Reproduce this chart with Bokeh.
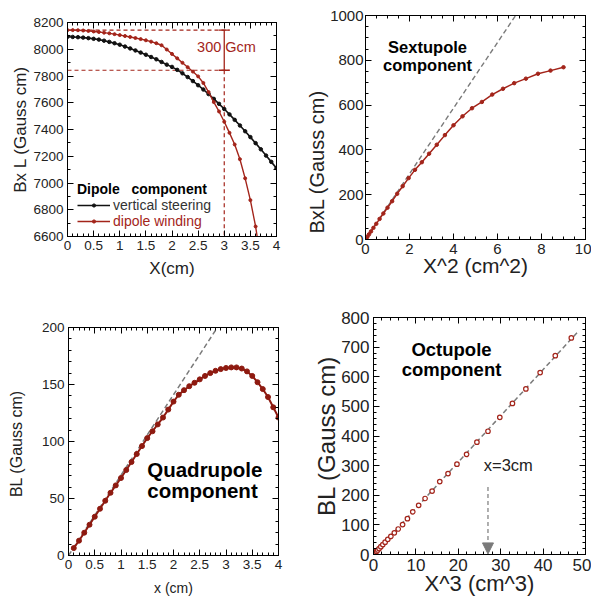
from bokeh.plotting import figure
from bokeh.models import (Range1d, LinearAxis, SingleIntervalTicker, CustomJSTickFormatter, Title,
                          Label, Legend, LegendItem, Arrow, NormalHead, CustomLabelingPolicy)
from bokeh.layouts import row, column
from bokeh.embed import file_html
from bokeh.resources import INLINE

# ---------------- data ----------------
# Dipole component (BxL vs X)
dipole_x = [0.0, 0.1, 0.2, 0.3, 0.4, 0.5, 0.6, 0.7, 0.8, 0.9, 1.0, 1.1, 1.2, 1.3, 1.4, 1.5, 1.6, 1.7, 1.8, 1.9,
            2.0, 2.1, 2.2, 2.3, 2.4, 2.5, 2.6, 2.7, 2.8, 2.9, 3.0, 3.1, 3.2, 3.3, 3.4, 3.5, 3.6, 3.7, 3.8, 3.9, 4.0]
steering_bl = [8093, 8092, 8090, 8087, 8083, 8078, 8072, 8064, 8055, 8045, 8034, 8020, 8006, 7991, 7975, 7959,
               7942, 7925, 7905, 7885, 7868, 7846, 7820, 7792, 7762, 7731, 7699, 7665, 7629, 7592, 7553, 7513,
               7472, 7430, 7387, 7343, 7298, 7252, 7205, 7158, 7111]
winding_x = [0.0, 0.1, 0.2, 0.3, 0.4, 0.5, 0.6, 0.7, 0.8, 0.9, 1.0, 1.1, 1.2, 1.3, 1.4, 1.5, 1.6, 1.7, 1.8, 1.9,
             2.0, 2.1, 2.2, 2.3, 2.4, 2.5, 2.6, 2.7, 2.8, 2.9, 3.0, 3.1, 3.2, 3.3, 3.4, 3.5, 3.6, 3.7]
winding_bl = [8143, 8143, 8142, 8140, 8137, 8133, 8129, 8124, 8119, 8113, 8106, 8099, 8092, 8084, 8076, 8067,
              8057, 8045, 8030, 7998, 7965, 7932, 7899, 7866, 7833, 7797, 7748, 7680, 7605, 7535, 7458, 7375,
              7288, 7178, 7035, 6872, 6675, 6420]
ref_x = 3.0          # x = 3 cm reference
ref_top = 8143       # dipole winding at x = 0
ref_low = 7843       # 300 Gcm below
ref_line_end = 3.1

# Sextupole component (BxL vs X^2)
sext_x2 = [0.0, 0.01, 0.04, 0.09, 0.16, 0.25, 0.36, 0.49, 0.64, 0.81, 1.0, 1.21, 1.44, 1.69, 1.96, 2.25, 2.56,
           2.89, 3.24, 3.61, 4.0, 4.41, 4.84, 5.29, 5.76, 6.25, 6.76, 7.29, 7.84, 8.41, 9.0]
sext_bl = [0, 1.5, 6, 13, 23, 36, 52, 70, 92, 116, 142, 171, 204, 238, 274, 311, 345, 383, 423, 466, 510, 550,
           586, 614, 647, 673, 698, 718, 740, 754, 769]
sext_fit_x = [0.0, 7.0]
sext_fit_y = [0.0, 1026.0]

# Quadrupole component (BL vs x)
quad_x = [0.1, 0.2, 0.3, 0.4, 0.5, 0.6, 0.7, 0.8, 0.9, 1.0, 1.1, 1.2, 1.3, 1.4, 1.5, 1.6, 1.7, 1.8, 1.9, 2.0,
          2.1, 2.2, 2.3, 2.4, 2.5, 2.6, 2.7, 2.8, 2.9, 3.0, 3.1, 3.2, 3.3, 3.4, 3.5, 3.6, 3.7, 3.8, 3.9, 4.0]
quad_bl = [6.5, 13, 20, 27, 34, 41, 48, 55, 61.5, 68, 75, 82, 89, 96, 103, 109, 115, 121, 128, 135,
           141, 145, 148.5, 151.5, 154.5, 157.5, 160, 162, 163.5, 164.5, 165, 165, 164, 161.5, 157.5, 152,
           146, 139, 130, 121]
quad_fit_x = [0.0, 2.9]
quad_fit_y = [0.0, 204.5]

# Octupole component (BL vs X^3)
oct_x3 = [0.001, 0.008, 0.027, 0.064, 0.125, 0.216, 0.343, 0.512, 0.729, 1.0, 1.331, 1.728, 2.197, 2.744,
          3.375, 4.096, 4.913, 5.832, 6.859, 8.0, 9.261, 10.648, 12.167, 13.824, 15.625, 17.576, 19.683,
          21.952, 24.389, 27.0, 29.791, 32.768, 35.937, 39.304, 42.875, 46.656]
oct_bl = [0.02, 0.12, 0.4, 1.0, 1.9, 3.3, 5.2, 7.8, 11.1, 15.2, 20.3, 26.3, 33.4, 41.7, 51.3, 61, 73, 86,
          101, 121, 144, 166, 189, 214, 246, 273, 305, 338, 379, 416, 463, 510, 559, 614, 671, 731]
oct_fit_x = [0.0, 48.4]
oct_fit_y = [0.0, 755.0]
oct_arrow_x = 27.0
oct_arrow_top = 228
oct_arrow_bottom = 2

# ---------------- style ----------------
RED = "#a3241a"
GRAY = "#7a7a7a"
FONT = "Liberation Sans"


def fmt():
    return CustomJSTickFormatter(code="return Number(tick.toFixed(2)).toString();")


def make_fig(w, h, xr, yr, bl, br, bt, bb, xint, xminor, yint, yminor, tick_fs,
             xlabel, ylabel, xlabel_fs, ylabel_fs, xlab_standoff, ylab_standoff, xfmt=False):
    p = figure(width=w, height=h, x_range=Range1d(*xr), y_range=Range1d(*yr),
               output_backend="svg", toolbar_location=None,
               min_border_left=bl, min_border_right=br, min_border_top=bt, min_border_bottom=bb)
    p.grid.visible = False
    p.outline_line_color = "black"
    p.background_fill_color = "white"
    p.border_fill_color = "white"
    for ax, interval, nminor, lab, fs, so in ((p.xaxis[0], xint, xminor, xlabel, xlabel_fs, xlab_standoff),
                                              (p.yaxis[0], yint, yminor, ylabel, ylabel_fs, ylab_standoff)):
        ax.ticker = SingleIntervalTicker(interval=interval, num_minor_ticks=nminor)
        ax.major_tick_in = 6
        ax.major_tick_out = 0
        ax.minor_tick_in = 3
        ax.minor_tick_out = 0
        ax.major_label_text_font = FONT
        ax.major_label_text_font_size = tick_fs
        ax.major_label_text_color = "#222"
        ax.major_label_standoff = 4
        ax.axis_line_color = "black"
        if lab:
            ax.axis_label = lab
        ax.axis_label_text_font = FONT
        ax.axis_label_text_font_style = "normal"
        ax.axis_label_text_font_size = fs
        ax.axis_label_text_color = "#222"
        ax.axis_label_standoff = so
    if xfmt:
        p.xaxis[0].formatter = fmt()
    for side, interval, nminor in (("above", xint, xminor), ("right", yint, yminor)):
        ax = LinearAxis(ticker=SingleIntervalTicker(interval=interval, num_minor_ticks=nminor),
                        major_tick_in=6, major_tick_out=0, minor_tick_in=3, minor_tick_out=0,
                        major_label_policy=CustomLabelingPolicy(code="return [];"),
                        major_label_text_font_size="1px",
                        major_label_standoff=0, axis_line_color="black")
        p.add_layout(ax, side)
    return p


def text(p, x, y, s, fs, color="black", bold=False, align="center", **kw):
    p.add_layout(Label(x=x, y=y, text=s, text_font=FONT, text_font_size=fs, text_color=color,
                       text_font_style="bold" if bold else "normal", text_align=align,
                       text_baseline="middle", **kw))


# ---------------- top-left: dipole ----------------
p1 = make_fig(303, 300, (0, 4), (6600, 8200), 67, 27, 22, 64, 0.5, 5, 200, 2, "13.5px",
              "X(cm)", "Bx L (Gauss cm)", "17px", "17px", 6, 0, xfmt=True)
p1.segment(x0=[0, 0], y0=[ref_top, ref_low], x1=[ref_line_end, ref_line_end], y1=[ref_top, ref_low],
           line_color=RED, line_dash="4 3", line_width=1.2)
p1.segment(x0=[ref_x], y0=[ref_low], x1=[ref_x], y1=[6600], line_color=RED, line_dash="4 3", line_width=1.2)
p1.segment(x0=[ref_x], y0=[ref_low], x1=[ref_x], y1=[ref_top], line_color=RED, line_width=1.3)
p1.scatter(x=[ref_x, ref_x], y=[ref_top, ref_low], marker="dash", size=11, line_color=RED, line_width=1.3)
l1 = p1.line(dipole_x, steering_bl, line_color="#111", line_width=1.6)
s1 = p1.scatter(dipole_x, steering_bl, size=3.5, color="#111")
l2 = p1.line(winding_x, winding_bl, line_color=RED, line_width=1.4)
s2 = p1.scatter(winding_x, winding_bl, size=3, color=RED)
text(p1, 2.48, 8015, "300 Gcm", "14.5px", color=RED, align="left")

leg_common = dict(background_fill_alpha=0, border_line_alpha=0, padding=0, margin=0, spacing=0,
                  glyph_width=33, glyph_height=8, label_height=16, label_standoff=3,
                  label_text_font=FONT, label_text_font_size="14px")
leg1 = Legend(items=[LegendItem(label="vertical steering", renderers=[l1, s1])],
              title="Dipole   component", title_text_font=FONT, title_text_font_size="14px",
              title_text_font_style="bold", title_text_color="black", title_standoff=0,
              label_text_color="#333", location=(10, 23), **leg_common)
leg2 = Legend(items=[LegendItem(label="dipole winding", renderers=[l2, s2])],
              label_text_color=RED, location=(10, 7), **leg_common)
p1.add_layout(leg1)
p1.add_layout(leg2)

# ---------------- top-right: sextupole ----------------
p2 = make_fig(288, 300, (0, 10), (0, 1000), 60, 6, 15, 61, 2, 4, 200, 4, "15px",
              "X^2 (cm^2)", None, "21px", "20px", -3, 0)
p2.yaxis[0].major_label_standoff = 2
t2 = Title(text="BxL (Gauss cm)", align="left", offset=6, text_font=FONT, text_font_size="20px",
           text_font_style="normal", text_color="#222")
if "standoff" in t2.properties():
    t2.standoff = 0
p2.add_layout(t2, "left")
p2.line(sext_fit_x, sext_fit_y, line_color=GRAY, line_dash="5 3", line_width=1.4)
p2.line(sext_x2, sext_bl, line_color=RED, line_width=1.5)
p2.scatter(sext_x2, sext_bl, size=3.5, color=RED)
text(p2, 2.82, 858, "Sextupole", "16.5px", bold=True)
text(p2, 2.82, 777, "component", "16.5px", bold=True)

# ---------------- bottom-left: quadrupole ----------------
p3 = make_fig(303, 298, (0, 4), (0, 200), 68, 25, 27, 41, 0.5, 5, 50, 5, "13.5px",
              "x (cm)", "BL  (Gauss cm)", "14px", "16px", 8, 14, xfmt=True)
p3.line(quad_fit_x, quad_fit_y, line_color=GRAY, line_dash="5 3", line_width=1.5)
p3.line(quad_x, quad_bl, line_color="#8e1a10", line_width=2)
p3.scatter(quad_x, quad_bl, size=5, color="#8e1a10")
text(p3, 1.5, 75.7, "Quadrupole", "20.5px", bold=True, align="left")
text(p3, 1.5, 56.8, "component", "20.5px", bold=True, align="left")

# ---------------- bottom-right: octupole ----------------
p4 = make_fig(288, 298, (0, 50), (0, 800), 70, 6, 17, 42, 10, 5, 100, 5, "17px",
              "X^3 (cm^3)", "BL (Gauss cm)", "22px", "24px", -3, -2)
p4.line(oct_fit_x, oct_fit_y, line_color=GRAY, line_dash="5 3", line_width=1.5)
p4.scatter(oct_x3, oct_bl, size=4.5, line_color=RED, fill_color="white", line_width=1.2)
text(p4, 18.4, 693, "Octupole", "18.5px", bold=True)
text(p4, 18.4, 626, "component", "18.5px", bold=True)
text(p4, 26, 302, "x=3cm", "16.5px", color="#222", align="left")
p4.add_layout(Arrow(end=NormalHead(size=11, fill_color=GRAY, line_color=GRAY),
                    x_start=oct_arrow_x, y_start=oct_arrow_top, x_end=oct_arrow_x, y_end=oct_arrow_bottom,
                    line_color=GRAY, line_dash="4 3", line_width=1.2))

layout = column(row(column(p1), column(p2)), row(column(p3), column(p4)))

open("out.html", "w").write(file_html(layout, INLINE))
